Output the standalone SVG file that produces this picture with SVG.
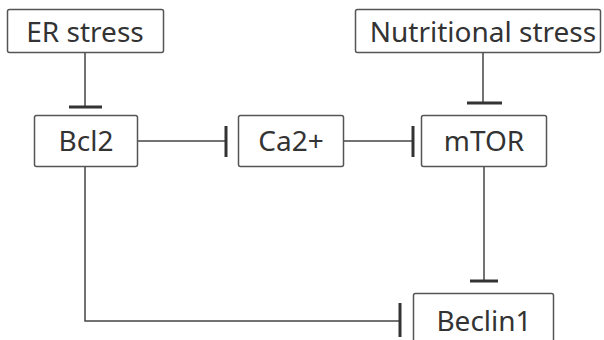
<svg xmlns="http://www.w3.org/2000/svg" width="604" height="340" viewBox="0 0 604 340">
<style>
.box{fill:#fff;stroke:#555;stroke-width:1.5}
.t{font-family:"Noto Sans","Open Sans",sans-serif;font-size:28px;fill:#333;text-anchor:middle}
.ln{stroke:#444;stroke-width:1.5;fill:none}
.bar{stroke:#333;stroke-width:3;fill:none}
</style>
<rect width="604" height="340" fill="#fff"/>
<g id="connectors">
<path class="ln" d="M85 53V107"/><path class="bar" d="M69 107H102"/>
<path class="ln" d="M483 53V103"/><path class="bar" d="M467 103H502"/>
<path class="ln" d="M137 141H226"/><path class="bar" d="M226 126V157"/>
<path class="ln" d="M344 141H413"/><path class="bar" d="M413 126V157"/>
<path class="ln" d="M484 167V281"/><path class="bar" d="M470 281H498"/>
<path class="ln" d="M85 167V321H400"/><path class="bar" d="M400 303V337"/>
</g>
<g id="er"><rect class="box" x="7.5" y="9.5" width="156" height="43" rx="2"/><text class="t" x="85" y="42">ER stress</text></g>
<g id="nutri"><rect class="box" x="355.5" y="9.5" width="245" height="43" rx="2"/><text class="t" x="483" y="42">Nutritional stress</text></g>
<g id="bcl2"><rect class="box" x="34.5" y="115.5" width="103" height="51" rx="2"/><text class="t" x="86" y="151">Bcl2</text></g>
<g id="ca"><rect class="box" x="238.5" y="115.5" width="105" height="51" rx="2"/><text class="t" x="291" y="151">Ca2+</text></g>
<g id="mtor"><rect class="box" x="421.5" y="115.5" width="125" height="51" rx="2"/><text class="t" x="484" y="151">mTOR</text></g>
<g id="beclin"><rect class="box" x="413.5" y="293.5" width="140" height="60" rx="2"/><text class="t" x="484" y="331">Beclin1</text></g>
</svg>
